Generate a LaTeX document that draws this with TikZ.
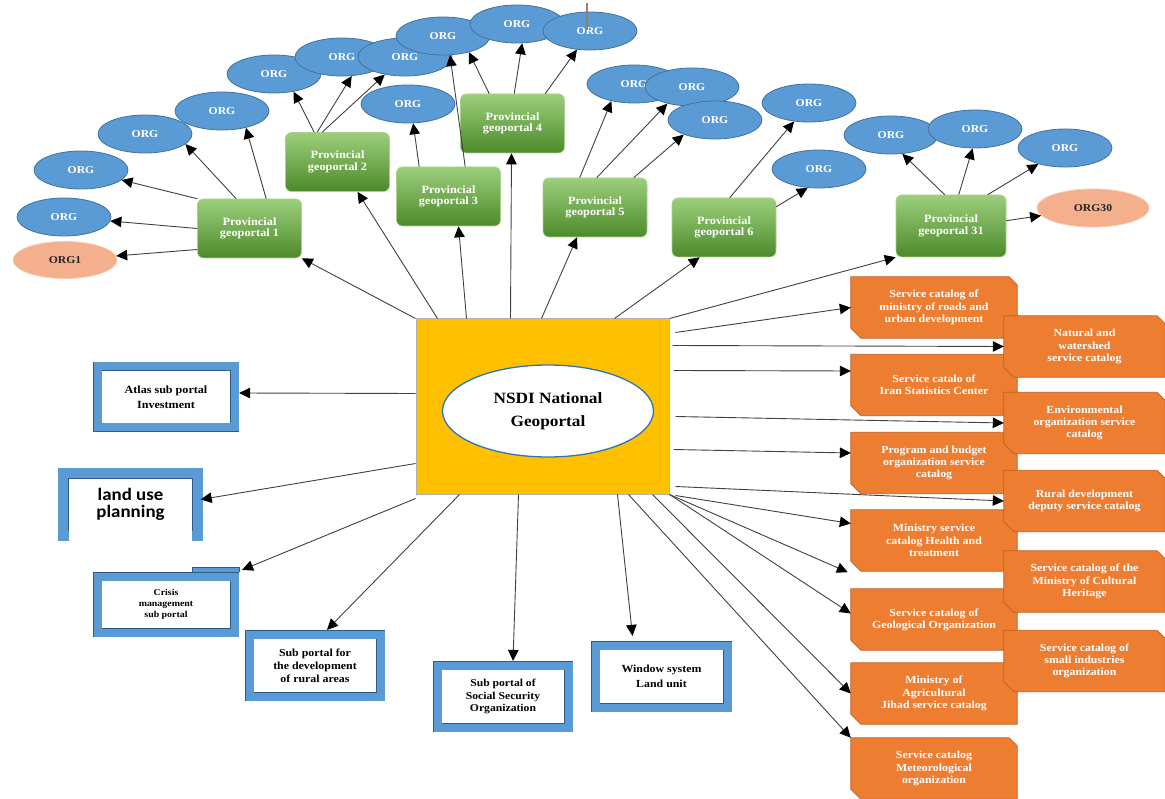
\documentclass[tikz,border=0pt]{standalone}
\usepackage{fontspec}
\setmainfont{Liberation Serif}[FakeStretch=1.1]
\newfontfamily\calib{Carlito}[FakeStretch=1.08]
\usetikzlibrary{arrows.meta,shapes.geometric,backgrounds}
\definecolor{cyel}{HTML}{FFC000}
\definecolor{eblue}{HTML}{5B9BD5}
\definecolor{eborder}{HTML}{41719C}
\definecolor{salmon}{HTML}{F4AF8C}
\definecolor{salmonb}{HTML}{F8CBAD}
\definecolor{pgtop}{HTML}{9CCF7C}
\definecolor{pgbot}{HTML}{4C8A2A}
\definecolor{pgline}{HTML}{A9D18E}
\definecolor{oran}{HTML}{ED7D31}
\definecolor{oranb}{HTML}{C0601F}
\definecolor{bband}{HTML}{5B9BD5}
\definecolor{bdark}{HTML}{2E5C8A}
\definecolor{nsdib}{HTML}{2E75B6}
\definecolor{arrc}{HTML}{404040}
\tikzset{
 arr/.style={draw=arrc, line width=0.9pt, -{Triangle[length=11pt,width=10.5pt,color=black]}},
 pg/.style={rounded corners=6pt, top color=pgtop, bottom color=pgbot, draw=pgline, line width=0.6pt,
   minimum width=104pt, minimum height=59pt, inner sep=1pt, text=white, align=center,
   font=\fontsize{11.2}{11.5}\selectfont\bfseries},
 org/.style={ellipse, fill=eblue, draw=eborder, line width=0.8pt, minimum width=94pt, minimum height=38pt,
   inner sep=0pt, text=white, font=\fontsize{10.6}{12}\selectfont\bfseries},
 orgs/.style={org, fill=salmon, draw=salmonb, text=black!85},
 obl/.style={minimum width=166pt, minimum height=61pt, inner sep=0pt, text=white, align=center,
   font=\fontsize{10.8}{12.2}\selectfont\bfseries},
 obr/.style={obl, minimum width=161pt},
 obox/.style={fill=oran, draw=oranb, line width=0.7pt},
 bframe/.style={draw=bdark, double=bband, double distance=8pt, line width=0.6pt},
 bbox/.style={bframe, fill=white, outer sep=4.6pt, inner sep=0pt, align=center, text=black},
}
\begin{document}
\begin{tikzpicture}[x=1pt,y=-1pt]
\useasboundingbox (0,0) rectangle (1165,799);

% centre
\node[fill=cyel, draw=black!30, line width=1pt, minimum width=253pt, minimum height=175pt, inner sep=0pt] (C) at (542.5,406.5) {};
\node[ellipse, fill=white, draw=nsdib, line width=1.3pt, minimum width=211pt, minimum height=92pt, inner sep=0pt,
  align=center, font=\fontsize{15.7}{23}\selectfont\bfseries] (N) at (548,411) {NSDI National\\Geoportal};

% provincial geoportals
\node[pg] (PG1) at (249.5,228.5) {Provincial\\geoportal 1};
\node[pg] (PG2) at (337.5,162) {Provincial\\geoportal 2};
\node[pg] (PG3) at (448.5,196.5) {Provincial\\geoportal 3};
\node[pg] (PG4) at (512.5,123.5) {Provincial\\geoportal 4};
\node[pg] (PG5) at (595,207.5) {Provincial\\geoportal 5};
\node[pg] (PG6) at (724,227.5) {Provincial\\geoportal 6};
\node[pg, minimum width=110pt, minimum height=62pt] (PG31) at (951,226) {Provincial\\geoportal 31};

% ORG ellipses
\node[orgs, minimum width=104pt, minimum height=37pt] (ORG1) at (65,260) {ORG1};
\node[org] (E2) at (64,217) {ORG};
\node[org] (E3) at (81,170) {ORG};
\node[org] (E4) at (145,134) {ORG};
\node[org] (E5) at (222,111) {ORG};
\node[org] (E6) at (274,74) {ORG};
\node[org] (E7) at (342,57) {ORG};
\node[org] (E8) at (405,57) {ORG};
\node[org] (E9) at (408,104) {ORG};
\node[org] (E10) at (443,36) {ORG};
\node[org] (E11) at (517,24) {ORG};
\node[org] (E12) at (590,31) {ORG};
\node[org] (E13) at (634,84) {ORG};
\node[org] (E14) at (692,87) {ORG};
\node[org] (E15) at (715,120) {ORG};
\node[org] (E16) at (809,103) {ORG};
\node[org] (E17) at (819,169) {ORG};
\node[org] (E18) at (891,135) {ORG};
\node[org] (E19) at (975,129) {ORG};
\node[org] (E20) at (1065,148) {ORG};
\node[orgs, minimum width=112pt, minimum height=38pt] (ORG30) at (1093,208) {ORG30};
\coordinate (s1) at (587,3);
\coordinate (s2) at (587,30);
\draw[line width=1.2pt, color=gray!70!brown] (s1) -- (s2);

% orange service catalogs
\node[obl] (R1) at (934,307.5) {Service catalog of\\ministry of roads and\\urban development};
\node[obl] (R3) at (934,385) {Service catalo of\\Iran Statistics Center};
\node[obl] (R5) at (934,463) {Program and budget\\organization service\\catalog};
\node[obl] (R7) at (934,540.5) {Ministry service\\catalog Health and\\treatment};
\node[obl] (R9) at (934,619.5) {Service catalog of\\Geological Organization};
\node[obl] (R11) at (934,693.5) {Ministry of\\Agricultural\\Jihad service catalog};
\node[obl] (R13) at (934,768.5) {Service catalog\\Meteorological\\organization};
\node[obr] (R2) at (1084.5,346.5) {Natural and\\watershed\\service catalog};
\node[obr] (R4) at (1084.5,423) {Environmental\\organization service\\catalog};
\node[obr] (R6) at (1084.5,501) {Rural development\\deputy service catalog};
\node[obr] (R8) at (1084.5,581.5) {Service catalog of the\\Ministry of Cultural\\Heritage};
\node[obr] (R10) at (1084.5,661) {Service catalog of\\small industries\\organization};
\begin{scope}[on background layer]
\foreach \n in {R1,R3,R5,R7,R9,R11,R13,R2,R4,R6,R8,R10}{
  \path[obox] (\n.north west) -- ([xshift=-8pt]\n.north east) -- ([yshift=-8pt]\n.north east)
    -- (\n.south east) -- ([xshift=10pt]\n.south west) -- ([yshift=10pt]\n.south west) -- cycle;}
\end{scope}

% blue sub portals
\node[bbox, minimum width=137pt, minimum height=61pt, font=\fontsize{11}{15}\selectfont\bfseries] (B1) at (166,397) {Atlas sub portal\\Investment};
\node[minimum width=134pt, minimum height=62pt, inner sep=0pt, align=center,
  font=\calib\fontsize{17.5}{17.5}\selectfont\bfseries] (B2) at (130.5,504.5) {land use\\planning};
\draw[bframe, double distance=10pt] ([xshift=6pt]B2.south west) -- (B2.south west) -- (B2.north west)
  -- (B2.north east) -- (B2.south east) -- ([xshift=-6pt]B2.south east);
\node[bbox, minimum width=137pt, minimum height=56pt, font=\fontsize{9}{11}\selectfont\bfseries] (B3) at (166,604.5) {Crisis\\management\\sub portal};
\fill[bband] ([xshift=-47pt,yshift=-0.5pt]B3.north east) rectangle ([yshift=5pt]B3.north east);
\draw[bdark, line width=0.6pt] ([xshift=-47pt]B3.north east) -- ++(0,-5) -- ++(47,0) -- ++(0,5);
\node[bbox, minimum width=131pt, minimum height=62pt, font=\fontsize{10.8}{13}\selectfont\bfseries] (B4) at (315,665.5) {Sub portal for\\the development\\of rural areas};
\node[bbox, minimum width=131pt, minimum height=62pt, font=\fontsize{10.6}{12.5}\selectfont\bfseries] (B5) at (503,696.5) {Sub portal of\\Social Security\\Organization};
\node[bbox, minimum width=132pt, minimum height=62pt, font=\fontsize{10.8}{15}\selectfont\bfseries] (B6) at (661.5,676.5) {Window system\\Land unit};

% centre -> provincial
\draw[arr] (C.north west) -- (PG1.south east);
\draw[arr] ([xshift=22pt]C.north west) -- ([xshift=20pt]PG2.south);
\draw[arr] ([xshift=51pt]C.north west) -- ([xshift=10pt]PG3.south);
\draw[arr] ([xshift=95pt]C.north west) -- ([xshift=-1pt]PG4.south);
\draw[arr] ([xshift=126pt]C.north west) -- ([xshift=-18pt]PG5.south);
\draw[arr] ([xshift=199pt]C.north west) -- ([xshift=28pt]PG6.south west);
\draw[arr] (C.north east) -- (PG31.south west);

% provincial -> ORG
\draw[arr] ([yshift=-21pt]PG1.west) -- (ORG1);
\draw[arr] (PG1.west) -- (E2);
\draw[arr] (PG1.north west) -- (E3);
\draw[arr] ([xshift=39pt]PG1.north west) -- (E4.-14);
\draw[arr] ([xshift=69pt]PG1.north west) -- (E5.-35);
\draw[arr] ([xshift=29pt]PG2.north west) -- (E6.-42);
\draw[arr] ([xshift=32pt]PG2.north west) -- (E7.-63);
\draw[arr] ([xshift=37pt]PG2.north west) -- (E8.-139);
\draw[arr] ([xshift=23pt]PG3.north west) -- (E9.-75);
\draw[arr] ([xshift=69pt]PG3.north west) -- (E10.-70);
\draw[arr] ([xshift=29pt]PG4.north west) -- (E10.-32);
\draw[arr] ([xshift=54pt]PG4.north west) -- (E11.-75);
\draw[arr] ([xshift=85pt]PG4.north west) -- (E12.-125);
\draw[arr] ([xshift=37pt]PG5.north west) -- (E13.-143);
\draw[arr] ([xshift=54pt]PG5.north west) -- (E14.-146);
\draw[arr] ([xshift=91pt]PG5.north west) -- (E15.-155);
\draw[arr] ([xshift=58pt]PG6.north west) -- (E16.-129);
\draw[arr] ([yshift=-9pt]PG6.north east) -- (E17.-121);
\draw[arr] ([xshift=49pt]PG31.north west) -- (E18.-59);
\draw[arr] ([xshift=63pt]PG31.north west) -- (E19.-97);
\draw[arr] ([xshift=92pt]PG31.north west) -- (E20.-149);
\draw[arr] ([yshift=-26pt]PG31.north east) -- (ORG30);

% centre -> service catalogs
\draw[arr] ([xshift=6pt,yshift=-14pt]C.north east) -- (R1.west);
\draw[arr] ([xshift=3pt,yshift=-27pt]C.north east) -- (R2.west);
\draw[arr] ([xshift=4pt,yshift=-52pt]C.north east) -- ([yshift=14pt]R3.west);
\draw[arr] ([xshift=6pt,yshift=-98pt]C.north east) -- (R4.west);
\draw[arr] ([xshift=4pt,yshift=-131pt]C.north east) -- ([yshift=10pt]R5.west);
\draw[arr] ([xshift=6pt,yshift=-168pt]C.north east) -- (R6.west);
\draw[arr] ([xshift=6pt,yshift=-1pt]C.south east) -- ([yshift=17pt]R7.west);
\draw[arr] (C.south east) -- ([xshift=-3pt,yshift=-1pt]R7.south west);
\draw[arr] (C.south east) -- ([yshift=6pt]R9.west);
\draw[arr] ([xshift=-17pt]C.south east) -- (R11.west);
\draw[arr] ([xshift=-41pt]C.south east) -- (R13.north west);

% centre -> sub portals
\draw[arr] ([yshift=-75pt]C.north west) -- ([yshift=4pt]B1.east);
\draw[arr] ([yshift=-145pt]C.north west) -- ([xshift=3pt,yshift=5pt]B2.east);
\draw[arr] ([yshift=-4pt]C.south west) -- ([xshift=3pt,yshift=2pt]B3.north east);
\draw[arr] ([xshift=44pt]C.south west) -- ([xshift=12pt]B4.north);
\draw[arr] ([xshift=103pt]C.south west) -- ([xshift=10pt]B5.north);
\draw[arr] ([xshift=202pt]C.south west) -- ([xshift=-29pt,yshift=5pt]B6.north);
\end{tikzpicture}
\end{document}
